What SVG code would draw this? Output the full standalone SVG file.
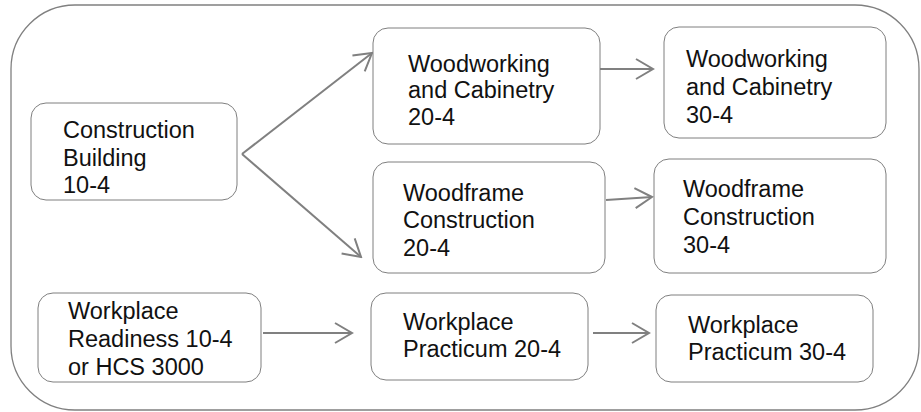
<svg xmlns="http://www.w3.org/2000/svg" width="921" height="412" viewBox="0 0 921 412">
<defs>
<style>
.frame{fill:#fff;stroke:#808080;stroke-width:1.3}
.box{fill:#fff;stroke:#7f7f7f;stroke-width:1}
.t{font-family:"Liberation Sans",Arial,sans-serif;font-size:23.5px;fill:#111}
.c{fill:none;stroke:#808080;stroke-width:2}
</style>
<marker id="ah" markerUnits="userSpaceOnUse" viewBox="0 0 20 24" markerWidth="20" markerHeight="24" refX="18" refY="12" orient="auto">
<path d="M1,2 L18,12 L1,22" fill="none" stroke="#808080" stroke-width="2"/>
</marker>
</defs>
<rect width="921" height="412" fill="#fff"/>
<rect class="frame" x="11" y="5" width="908" height="405" rx="64" ry="64"/>
<g id="connectors">
<path class="c" d="M242,154 L372,53" marker-end="url(#ah)"/>
<path class="c" d="M242,154 L361,257" marker-end="url(#ah)"/>
<path class="c" d="M585,69 L653,69" marker-end="url(#ah)"/>
<path class="c" d="M606,200 L652,197" marker-end="url(#ah)"/>
<path class="c" d="M263,333 L352,333" marker-end="url(#ah)"/>
<path class="c" d="M593,333 L649,333" marker-end="url(#ah)"/>
</g>
<g id="n1">
<rect class="box" x="31" y="103" width="206" height="97" rx="15"/>
<text class="t" x="63" y="138">Construction</text>
<text class="t" x="63" y="166">Building</text>
<text class="t" x="63" y="193">10-4</text>
</g>
<g id="n2">
<rect class="box" x="373" y="28" width="227" height="116" rx="15"/>
<text class="t" x="408" y="72">Woodworking</text>
<text class="t" x="408" y="98">and Cabinetry</text>
<text class="t" x="408" y="125">20-4</text>
</g>
<g id="n3">
<rect class="box" x="664" y="27" width="222" height="111" rx="15"/>
<text class="t" x="686" y="67">Woodworking</text>
<text class="t" x="686" y="95">and Cabinetry</text>
<text class="t" x="686" y="123">30-4</text>
</g>
<g id="n4">
<rect class="box" x="373" y="162" width="232" height="111" rx="15"/>
<text class="t" x="403" y="201">Woodframe</text>
<text class="t" x="403" y="228">Construction</text>
<text class="t" x="403" y="256">20-4</text>
</g>
<g id="n5">
<rect class="box" x="654" y="159" width="232" height="114" rx="15"/>
<text class="t" x="683" y="197">Woodframe</text>
<text class="t" x="683" y="225">Construction</text>
<text class="t" x="683" y="253">30-4</text>
</g>
<g id="n6">
<rect class="box" x="38" y="293" width="223" height="89" rx="15"/>
<text class="t" x="68" y="319">Workplace</text>
<text class="t" x="68" y="347">Readiness 10-4</text>
<text class="t" x="68" y="375">or HCS 3000</text>
</g>
<g id="n7">
<rect class="box" x="371" y="293" width="217" height="87" rx="15"/>
<text class="t" x="403" y="330">Workplace</text>
<text class="t" x="403" y="357">Practicum 20-4</text>
</g>
<g id="n8">
<rect class="box" x="656" y="295" width="217" height="87" rx="15"/>
<text class="t" x="688" y="333">Workplace</text>
<text class="t" x="688" y="360">Practicum 30-4</text>
</g>
</svg>
